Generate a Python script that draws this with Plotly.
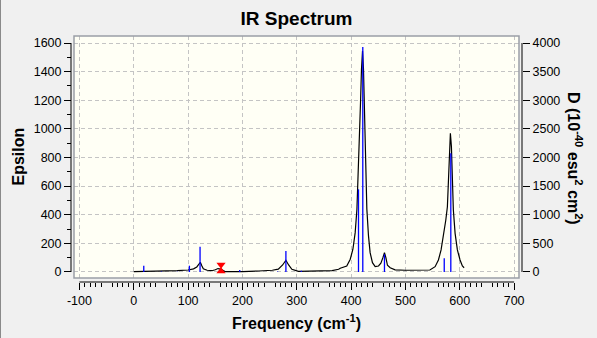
import plotly.graph_objects as go

# Broadened IR spectrum (left axis, epsilon)
curve_freq = [0, 15, 18, 25, 50, 55, 80, 100, 110, 116, 120, 122.5, 125, 128, 135, 144,
              150, 155, 160, 168, 200, 224, 230, 255, 266, 274, 280, 285, 291, 303, 350,
              365, 377, 380, 392, 398.4, 403.3, 407.5, 410.7, 413.6, 415.5, 417.3, 419.1,
              421, 422.8, 424.6, 426.5, 429, 432, 435, 439.3, 444.3, 450.4, 454.8, 458.5,
              461.4, 464, 466.9, 471.9, 481, 500, 520, 536, 545, 554.6, 560.7, 565.6,
              569.9, 574.3, 577.2, 579, 580.9, 582.7, 584.6, 586.4, 588.2, 591.4, 595.6,
              600.5, 604.8, 608]
curve_eps = [2, 3, 6, 3, 4, 9, 10, 14, 22, 35, 55, 68, 45, 22, 12, 9,
             16, 24, 20, 3, 2, 2, 7, 12, 20, 49, 82, 49, 19, 4, 4,
             9, 19, 26, 42, 89, 159, 275, 438, 718, 927, 1183, 1416,
             1544, 1416, 1067, 718, 438, 252, 135, 65, 37, 42, 61, 100,
             135, 100, 47, 30, 15, 12, 12, 12, 14, 37, 84, 154,
             247, 363, 456, 666, 829, 969, 876, 666, 433, 270, 154,
             84, 42, 30]

# Computed normal modes (right axis, dipole strength)
stick_freq = [18.4, 51, 80, 102.4, 122, 195, 264.7, 280, 308.3, 413.6, 421.5, 461.4, 571.4, 583.5]
stick_D = [110, 8, 6, 110, 442, 35, 8, 367, 23, 1444, 3930, 309, 239, 2073]

# Selected-mode marker
marker_freq = [160.6, 160.6]
marker_eps = [50, 5]
marker_symbols = ["triangle-down", "triangle-up"]

# Axis ticks
x_ticks = [-100, 0, 100, 200, 300, 400, 500, 600, 700]
x_mid_ticks = [-50, 50, 150, 250, 350, 450, 550, 650]
x_minor_ticks = [v for v in range(-100, 701, 10) if v % 50 != 0]
y_ticks = [0, 200, 400, 600, 800, 1000, 1200, 1400, 1600]
y2_ticks = [0, 500, 1000, 1500, 2000, 2500, 3000, 3500, 4000]

W, H = 597, 338
ML, MR, MT, MB = 71, 75, 36, 56
PW, PH = W - ML - MR, H - MT - MB


def px_x(x):
    return (x - ML) / PW


def px_y(y):
    return (H - MB - y) / PH


FONT = "Liberation Sans, Arial, sans-serif"

sx, sy = [], []
for f, d in zip(stick_freq, stick_D):
    sx += [f, f, None]
    sy += [0, d, None]

fig = go.Figure()
fig.add_trace(go.Scatter(x=curve_freq, y=curve_eps, mode="lines",
                         line=dict(color="black", width=1.2), yaxis="y",
                         hoverinfo="skip"))
fig.add_trace(go.Scatter(x=sx, y=sy, mode="lines",
                         line=dict(color="#0000ff", width=1.3), yaxis="y2",
                         hoverinfo="skip"))
fig.add_trace(go.Scatter(x=marker_freq, y=marker_eps, mode="markers",
                         marker=dict(symbol=marker_symbols, size=8, color="#ff0000",
                                     line=dict(width=0)),
                         yaxis="y", hoverinfo="skip"))

grid = dict(showgrid=True, gridcolor="#c4c4c4", gridwidth=1, griddash="4px,3px")
tickfont = dict(family=FONT, size=12.5, color="black")

fig.update_layout(
    width=W, height=H,
    margin=dict(l=ML, r=MR, t=MT, b=MB, pad=0),
    paper_bgcolor="#f0f0f0",
    plot_bgcolor="#fffff5",
    showlegend=False,
    title=dict(text="<b>IR Spectrum</b>", font=dict(family=FONT, size=19, color="black"),
               x=px_x(296.5), xref="paper", xanchor="center",
               y=1 - 18 / H, yref="container", yanchor="middle"),
    xaxis=dict(domain=[px_x(74), px_x(519)], range=[-110, 709], anchor="free", position=0,
               tickvals=x_ticks, ticktext=[str(v) for v in x_ticks],
               ticks="outside", ticklen=7, tickcolor="black", tickwidth=1,
               showline=False, zeroline=False, tickfont=tickfont,
               minor=dict(tickvals=x_minor_ticks, ticks="outside", ticklen=4,
                          tickcolor="black", showgrid=False),
               **grid),
    xaxis2=dict(overlaying="x", range=[-110, 709], anchor="free", position=0,
                tickvals=x_mid_ticks, ticks="outside", ticklen=5.5, tickcolor="black",
                showticklabels=False, showgrid=False, showline=False, zeroline=False),
    yaxis=dict(domain=[px_y(278), 1], range=[-42, 1649], anchor="free", position=0,
               tickvals=y_ticks, ticktext=[str(v) for v in y_ticks],
               ticks="outside", ticklen=7, tickcolor="black", tickwidth=1,
               showline=False, zeroline=False, tickfont=tickfont,
               minor=dict(dtick=100, ticks="outside", ticklen=4, tickcolor="black",
                          showgrid=False),
               **grid),
    yaxis2=dict(overlaying="y", side="right", anchor="free", position=1,
                range=[-105, 4122.5], tickvals=y2_ticks, ticktext=[str(v) for v in y2_ticks],
                ticks="outside", ticklen=7, tickcolor="black", tickwidth=1,
                showline=False, zeroline=False, showgrid=False, tickfont=tickfont),
)

# Plot frame and axis rulers
fig.add_shape(type="rect", xref="x domain", yref="y domain", x0=0, x1=1, y0=0, y1=1,
              line=dict(color="#9a9ea6", width=1.5), layer="above")
fig.add_shape(type="line", xref="x", yref="paper", x0=x_ticks[0], x1=x_ticks[-1], y0=0, y1=0,
              line=dict(color="black", width=1))
fig.add_shape(type="line", xref="paper", yref="y", x0=0, x1=0, y0=y_ticks[0], y1=y_ticks[-1],
              line=dict(color="black", width=1))
fig.add_shape(type="line", xref="paper", yref="y2", x0=1, x1=1, y0=y2_ticks[0], y1=y2_ticks[-1],
              line=dict(color="black", width=1))
fig.add_shape(type="line", xref="paper", yref="paper", x0=px_x(0.5), x1=px_x(0.5),
              y0=px_y(H), y1=px_y(0), line=dict(color="#8a8a8a", width=1))

bold = dict(family=FONT, size=16, color="black")
common = dict(xref="paper", yref="paper", xanchor="center", yanchor="middle", showarrow=False,
              font=bold)
fig.add_annotation(text="<b>Epsilon</b>", x=px_x(17.5), y=px_y(157), textangle=-90, **common)
fig.add_annotation(text="<b>Frequency (cm<sup>-1</sup>)</b>", x=px_x(296.5), y=px_y(321.5),
                   **common)
fig.add_annotation(text="<b>D (10<sup>-40</sup> esu<sup>2</sup> cm<sup>2</sup>)</b>",
                   x=px_x(575), y=px_y(158), textangle=90, **common)

fig.write_html("out.html")
